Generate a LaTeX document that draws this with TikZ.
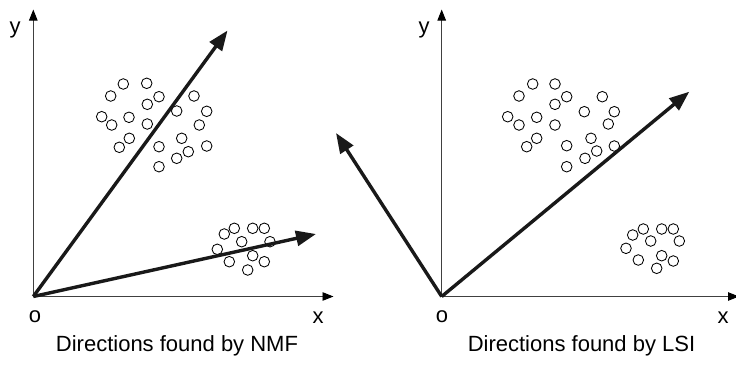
\documentclass[tikz,border=0pt]{standalone}
\usepackage{fontspec}
\setmainfont{Liberation Sans}
\usetikzlibrary{arrows.meta}
\begin{document}
\begin{tikzpicture}[x=1pt,y=-1pt,
  axis/.style={draw=black!75,line width=0.9pt,-{Triangle[length=11pt,width=8.5pt,color=black]}},
  dirarrow/.style={draw=black!90,line width=3.4pt,-{Triangle[length=20pt,width=15pt]}},
  dot/.style={circle,draw=black,line width=0.85pt,minimum size=10.6pt,inner sep=0pt,fill=white},
  lbl/.style={font=\fontsize{22}{26}\selectfont,inner sep=0pt}]
\useasboundingbox (0,0) rectangle (736,365);
% origins and tips
\coordinate (O1) at (33.3,296.5);
\coordinate (O2) at (441.7,296.5);
\coordinate (Y1) at (33.3,9.5);
\coordinate (X1) at (333.5,296.5);
\coordinate (Y2) at (441.7,9.5);
\coordinate (X2) at (739,296.5);
\coordinate (N1) at (227.5,30.5);
\coordinate (N2) at (316,234);
\coordinate (L1) at (336,133);
\coordinate (L2) at (689.3,91.7);
% axes
\draw[axis] (O1) -- (Y1);
\draw[axis] (O1) -- (X1);
\draw[axis] (O2) -- (Y2);
\draw[axis] (O2) -- (X2);
% clusters, left panel
\foreach \p [count=\i] in {(123.3,84),(146.7,83.3),(110.7,96),(159,96.7),(147.3,104.3),(194,96),(101.7,116.7),(111.7,125),(129,117.3),(147.3,124),(176.7,111),(206.7,111.3),(199.3,125),(129.3,138.3),(119.3,147.3),(159,146.7),(181.7,138.3),(206.7,146),(188.3,151.7),(176.7,158.3),(159,166.7)}
  \node[dot] (la\i) at \p {};
\foreach \p [count=\i] in {(234.3,228.3),(252.7,228.3),(264.3,228.3),(224.3,234),(241.7,241.7),(270,241.7),(217.3,249.3),(229.3,261.7),(252.7,255.7),(264.3,261.7),(247.7,270)}
  \node[dot] (lb\i) at \p {};
% clusters, right panel
\foreach \p [count=\i] in {(532.7,84),(555,84),(519,96),(566.7,96.7),(555,104.3),(602.3,96.7),(507.7,116.7),(519,125),(536.7,117.3),(555,125),(584.3,111.7),(614.3,111.7),(608.3,124),(536.7,138.3),(526.7,146.7),(566.7,145.7),(591,138.3),(614.3,146),(596.7,151),(585,158.3),(566.7,166.7)}
  \node[dot] (ra\i) at \p {};
\foreach \p [count=\i] in {(643.3,229),(661.7,229),(673.3,229),(632.7,235),(650.7,241),(679.3,241),(626,248.3),(638.3,260),(661.7,255.7),(673.3,261),(656.7,268.3)}
  \node[dot] (rb\i) at \p {};
% direction arrows
\draw[dirarrow] (O1) -- (N1);
\draw[dirarrow] (O1) -- (N2);
\draw[dirarrow] (O2) -- (L1);
\draw[dirarrow] (O2) -- (L2);
% labels
\node[lbl] (ly1) at (15,30) {y};
\node[lbl] (lo1) at (35,317) {o};
\node[lbl] (lx1) at (318,318) {x};
\node[lbl] (ly2) at (424,30) {y};
\node[lbl] (lo2) at (442,317) {o};
\node[lbl] (lx2) at (723,318) {x};
\node[lbl] (c1) at (177,346) {Directions found by NMF};
\node[lbl] (c2) at (581.5,346) {Directions found by LSI};
\end{tikzpicture}
\end{document}
